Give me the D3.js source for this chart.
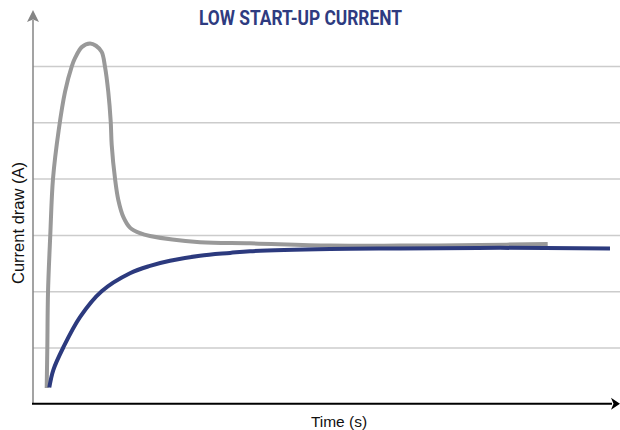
<!DOCTYPE html>
<html>
<head>
<meta charset="utf-8">
<script src="https://cdn.jsdelivr.net/npm/d3@7"></script>
<style>
  html, body { margin: 0; padding: 0; background: #fff; }
  svg { display: block; }
</style>
</head>
<body>
<svg id="chart"></svg>
<script>
// values (arbitrary units: time 0-100, current 0-7)
const gridTicks = [1, 2, 3, 4, 5, 6];

const standardTime = [2.36, 2.47, 2.59, 2.98, 3.45, 4.43, 5.52, 6.67, 7.24, 8.45, 9.83, 10.86, 11.84, 12.41, 12.98, 13.4, 13.57, 14.14, 14.71, 15.57, 16.72, 18.45, 20.17, 28.79, 37.41, 51.21, 63.28, 77.07, 88.74];
const standardCurrent = [0.28, 1.01, 1.99, 3.0, 4.0, 4.86, 5.54, 5.99, 6.14, 6.34, 6.4, 6.36, 6.25, 5.99, 5.54, 5.01, 4.6, 4.0, 3.62, 3.32, 3.13, 3.03, 2.98, 2.87, 2.85, 2.81, 2.81, 2.82, 2.84];

const softTime = [2.81, 3.5, 5.22, 8.1, 11.84, 16.72, 20.17, 23.62, 28.79, 33.97, 37.41, 51.21, 63.28, 80.52, 99.48];
const softCurrent = [0.29, 0.6, 1.0, 1.54, 2.0, 2.32, 2.45, 2.54, 2.63, 2.68, 2.71, 2.75, 2.76, 2.77, 2.76];

const title = 'LOW START-UP CURRENT';
const xLabel = 'Time (s)';
const yLabel = 'Current draw (A)';

const w = 620, h = 430;
const x0 = 33, x1 = 613, yBottom = 403.8, yTop = 9.7;

const svg = d3.select('#chart')
    .attr('width', w)
    .attr('height', h)
    .attr('viewBox', '0 0 ' + w + ' ' + h);

const x = d3.scaleLinear().domain([0, 100]).range([x0, x1]);
const y = d3.scaleLinear().domain([0, 7]).range([yBottom, yTop]);

//gridlines
svg.append('g')
    .attr('transform', 'translate(' + x0 + ',0)')
    .call(d3.axisLeft(y).tickValues(gridTicks).tickSize(-(w - x0)).tickFormat(''))
    .call(g => g.select('.domain').remove())
    .call(g => g.selectAll('.tick line')
        .attr('stroke', '#cccccc')
        .attr('stroke-width', 1.5));

//y axis with arrow
svg.append('line')
    .attr('x1', x0).attr('x2', x0)
    .attr('y1', yBottom).attr('y2', 20)
    .attr('stroke', '#858585')
    .attr('stroke-width', 1.5);

svg.append('path')
    .attr('d', 'M' + (x0 - 6) + ',22 L' + x0 + ',10 L' + (x0 + 6) + ',22 L' + x0 + ',19.5 Z')
    .attr('fill', '#858585');

//lines
const line = d3.line()
    .x(d => x(d[0]))
    .y(d => y(d[1]))
    .curve(d3.curveCatmullRom.alpha(0.5));

svg.append('path')
    .datum(standardTime.map((t, i) => [t, standardCurrent[i]]))
    .attr('d', line)
    .attr('fill', 'none')
    .attr('stroke', '#999999')
    .attr('stroke-width', 4);

svg.append('path')
    .datum(softTime.map((t, i) => [t, softCurrent[i]]))
    .attr('d', line)
    .attr('fill', 'none')
    .attr('stroke', '#2c3a7e')
    .attr('stroke-width', 4);

//x axis with arrow
svg.append('line')
    .attr('x1', x0 - 1).attr('x2', 612)
    .attr('y1', yBottom).attr('y2', yBottom)
    .attr('stroke', '#000')
    .attr('stroke-width', 2);

svg.append('path')
    .attr('d', 'M611,' + (yBottom - 6) + ' L620,' + yBottom + ' L611,' + (yBottom + 6) + ' L613.5,' + yBottom + ' Z')
    .attr('fill', '#000');

//title and labels
svg.append('text')
    .attr('x', 199)
    .attr('y', 25)
    .attr('font-family', 'Roboto, "Liberation Sans", sans-serif')
    .attr('font-weight', 'bold')
    .attr('font-size', 20)
    .attr('textLength', 203)
    .attr('lengthAdjust', 'spacingAndGlyphs')
    .attr('fill', '#2e3b80')
    .text(title);

svg.append('text')
    .attr('x', 339)
    .attr('y', 427)
    .attr('text-anchor', 'middle')
    .attr('font-family', '"Liberation Sans", Arial, sans-serif')
    .attr('font-size', 15.5)
    .attr('fill', '#111')
    .text(xLabel);

svg.append('text')
    .attr('transform', 'translate(24,223) rotate(-90)')
    .attr('text-anchor', 'middle')
    .attr('font-family', '"Liberation Sans", Arial, sans-serif')
    .attr('font-size', 16.5)
    .attr('fill', '#111')
    .text(yLabel);
</script>
</body>
</html>
